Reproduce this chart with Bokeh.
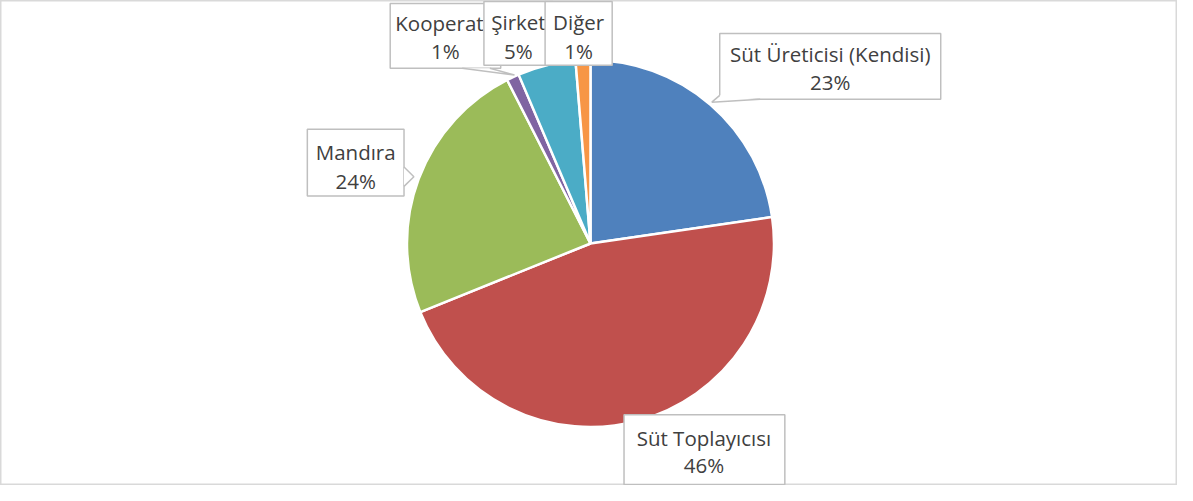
import math
from bokeh.plotting import figure
from bokeh.models import Range1d
from bokeh.core.properties import value
from bokeh.embed import file_html
from bokeh.resources import INLINE

# ---- data ----
categories = ["Süt Üreticisi (Kendisi)", "Süt Toplayıcısı", "Mandıra", "Kooperatif", "Şirket", "Diğer"]
shares = [22.7, 46.2, 23.6, 1.1, 5.1, 1.3]
colors = ["#4F81BD", "#C0504D", "#9BBB59", "#8064A2", "#4BACC6", "#F79646"]

# ---- layout (pixel coordinates) ----
W, H = 1177, 485
SX, SY = W / 1193, H / 501


def X(sx):
    return sx * SX


def Y(sy):
    return H - sy * SY


CX, CY, R = 598, 251, 186

label_layout = [
    dict(box=(729, 953, 34, 102), tx=841, ly=(55, 84),
         ptr=[(770, 102), (721, 105), (729, 98)]),
    dict(box=(632, 795, 428, 500), tx=713, ly=(452, 480),
         ptr=None),
    dict(box=(311, 409, 133, 202), tx=360, ly=(157, 186),
         ptr=[(409, 172), (419, 182), (409, 192)]),
    dict(box=(395, 507, 3, 70), tx=451, ly=(23, 52),
         ptr=[(468, 70), (521, 77), (496, 70)]),
    dict(box=(490, 560, 1, 67), tx=525, ly=(22, 52),
         ptr=None),
    dict(box=(552, 620, 1, 67), tx=586, ly=(22, 52),
         ptr=None),
]

p = figure(width=W, height=H, x_range=Range1d(0, W), y_range=Range1d(0, H),
           output_backend="svg", toolbar_location=None, min_border=0,
           outline_line_color="#D9D9D9", outline_line_width=2,
           background_fill_color="white", border_fill_color="white")
p.xaxis.visible = False
p.yaxis.visible = False
p.xgrid.visible = False
p.ygrid.visible = False

total = sum(shares)
starts, ends = [], []
c = 0.0
for s in shares:
    starts.append(math.pi / 2 - 2 * math.pi * c / total)
    c += s
    ends.append(math.pi / 2 - 2 * math.pi * c / total)

p.wedge(x=[X(CX)] * len(shares), y=[Y(CY)] * len(shares), radius=R * SX,
        start_angle=starts, end_angle=ends, direction="clock",
        fill_color=colors, line_color="white", line_width=2.5)

FONT = value("Open Sans")
for cat, s, lay in zip(categories, shares, label_layout):
    l, r, t, b = lay["box"]
    p.quad(left=[X(l)], right=[X(r)], top=[Y(t)], bottom=[Y(b)],
           fill_color="white", line_color="#BFBFBF", line_width=1.5)
    if lay["ptr"]:
        pts = lay["ptr"]
        p.patch(x=[X(q[0]) for q in pts], y=[Y(q[1]) for q in pts],
                fill_color="white", line_color=None)
        p.line(x=[X(q[0]) for q in pts], y=[Y(q[1]) for q in pts],
               line_color="#BFBFBF", line_width=1.5)
    p.text(x=[X(lay["tx"]), X(lay["tx"])], y=[Y(lay["ly"][0]), Y(lay["ly"][1])],
           text=[cat, f"{round(s)}%"], text_font=FONT, text_font_size="20.5px",
           text_color="#404040", text_align="center", text_baseline="middle")

open("out.html", "w").write(file_html(p, INLINE))
